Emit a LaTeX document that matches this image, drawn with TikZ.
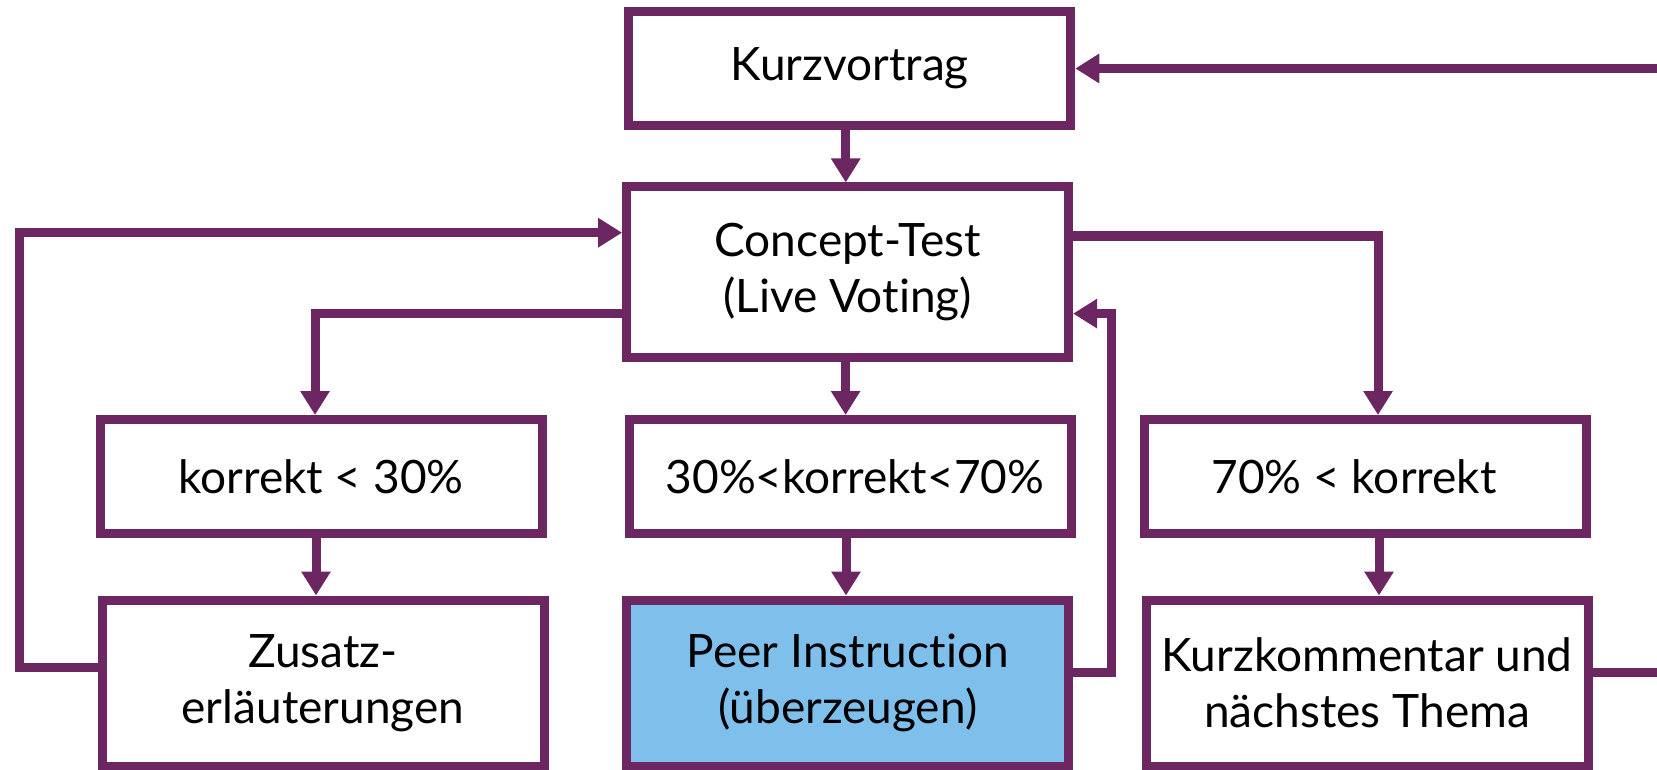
\documentclass[tikz,border=0pt]{standalone}
\usepackage{fontspec}
\setmainfont{Lato}[Ligatures={NoCommon,NoRare,NoDiscretionary}]
\usetikzlibrary{arrows.meta,calc}
\definecolor{pur}{RGB}{108,38,98}
\definecolor{piblue}{RGB}{127,191,236}
\begin{document}
\begin{tikzpicture}[x=1pt,y=-1pt,
  box/.style={draw=pur, line width=9pt, fill=white, inner sep=0pt, align=center,
    minimum width=442pt, font=\fontsize{46}{56}\selectfont},
  lowbox/.style={box, minimum height=114pt},
  tallbox/.style={box, minimum height=166pt},
  conn/.style={draw=pur, line width=9pt},
  arr/.style={conn, -{Triangle[length=24pt,width=28pt]}},
]
\useasboundingbox (0,0) rectangle (1657,770);
\fill[white] (0,0) rectangle (1657,770);

\node[box, minimum height=114pt] (kv) at (849.75,68.5) {Kurzvortrag};
\node[box, minimum height=170pt] (ct) at (847.6,272) {Concept-Test\\(Live Vo{}ting)};

\node[lowbox] (lo) at (321,476.5) {korrekt < 30\%};
\node[lowbox] (mid) at (850,476.5) {\hspace*{10pt}30\%<korrekt<70\%};
\node[lowbox] (hi) at (1365,476.5) {70\% < korrekt\hspace*{22pt}};

\node[tallbox] (zus) at (323,683) {Zusatz-\\erläuterungen};
\node[tallbox, fill=piblue] (pi) at (847.8,683) {Peer Instruc{}tion\\(überzeugen)};
\node[tallbox] (kk) at (1367,683) {Kurzkommentar und\\nächstes Thema};

\coordinate (lx) at (19,0);
\coordinate (rx) at (1111.5,0);
\coordinate (fx) at (1700,0);

% straight down arrows
\draw[arr] ([xshift=-4pt]kv.south) -- ([xshift=-4pt]kv.south |- ct.north);
\draw[arr] ([xshift=-2pt]ct.south) -- ([xshift=-2pt]ct.south |- mid.north);
\draw[arr] ([xshift=-4pt]mid.south) -- ([xshift=-4pt]mid.south |- pi.north);
\draw[arr] ([xshift=-5pt]lo.south) -- ([xshift=-5pt]lo.south |- zus.north);
\draw[arr] ([xshift=14pt]hi.south) -- ([xshift=14pt]hi.south |- kk.north);

% Concept-Test to the three outcomes
\draw[arr] ($(ct.west)+(0,41.6)$) -| ([xshift=-6pt]lo.north);
\draw[arr] ($(ct.east)+(0,-36)$) -| ([xshift=13pt]hi.north);

% loops back
\draw[arr] ($(zus.west)+(0,-15.5)$) -| (lx |- {$(ct.west)+(0,-39.3)$}) -- ($(ct.west)+(0,-39.3)$);
\draw[arr] ($(pi.east)+(0,-10.5)$) -| (rx |- {$(ct.east)+(0,41.6)$}) -- ($(ct.east)+(0,41.6)$);
\draw[arr] ($(kk.east)+(0,-10.5)$) -| (fx |- kv.east) -- (kv.east);
\end{tikzpicture}
\end{document}
